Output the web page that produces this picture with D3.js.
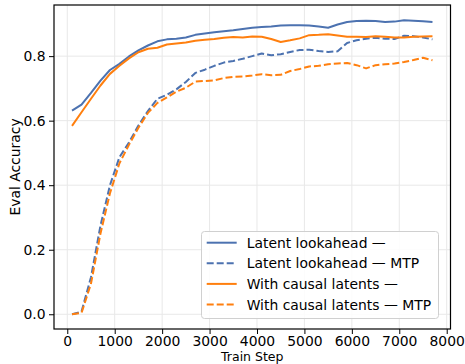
<!DOCTYPE html>
<html><head><meta charset="utf-8">
<script src="https://cdn.jsdelivr.net/npm/d3@7"></script>
<style>
html,body{margin:0;padding:0;background:#fff;}
svg{display:block;font-family:"DejaVu Sans",sans-serif;}
</style></head>
<body>
<svg id="chart" width="465" height="364"></svg>
<script>
const steps = [100,300,500,700,900,1100,1300,1500,1700,1900,2100,2300,2500,2700,2900,3100,3300,3500,3700,3900,4100,4300,4500,4700,4900,5100,5300,5500,5700,5900,6100,6300,6500,6700,6900,7100,7300,7500,7700];
const latentLookahead = [0.631,0.650,0.686,0.724,0.757,0.776,0.799,0.818,0.833,0.846,0.852,0.854,0.858,0.866,0.870,0.874,0.877,0.880,0.884,0.888,0.890,0.892,0.895,0.896,0.896,0.895,0.892,0.888,0.898,0.906,0.909,0.910,0.909,0.906,0.907,0.911,0.910,0.908,0.906];
const latentLookaheadMTP = [0.000,0.008,0.115,0.275,0.400,0.487,0.532,0.585,0.630,0.668,0.680,0.697,0.720,0.748,0.758,0.770,0.780,0.785,0.792,0.800,0.808,0.803,0.806,0.813,0.819,0.820,0.816,0.813,0.815,0.841,0.849,0.854,0.857,0.854,0.853,0.863,0.862,0.858,0.852];
const causalLatents = [0.584,0.626,0.668,0.709,0.745,0.770,0.793,0.812,0.823,0.826,0.836,0.839,0.842,0.848,0.851,0.853,0.857,0.859,0.858,0.861,0.860,0.853,0.844,0.849,0.855,0.865,0.866,0.868,0.864,0.860,0.860,0.859,0.862,0.860,0.858,0.858,0.860,0.861,0.862];
const causalLatentsMTP = [0.000,0.004,0.095,0.250,0.375,0.468,0.525,0.578,0.624,0.655,0.672,0.690,0.702,0.721,0.723,0.725,0.732,0.736,0.737,0.740,0.744,0.741,0.742,0.754,0.760,0.768,0.770,0.775,0.777,0.779,0.772,0.762,0.772,0.775,0.777,0.782,0.788,0.795,0.787];
const seriesNames = ["Latent lookahead \u2014","Latent lookahead \u2014 MTP","With causal latents \u2014","With causal latents \u2014 MTP"];
const xTicks = [0,1000,2000,3000,4000,5000,6000,7000,8000];
const yTicks = [0.0,0.2,0.4,0.6,0.8];

const series = [
  {name: seriesNames[0], values: latentLookahead, color: "#4c72b0", dash: null},
  {name: seriesNames[1], values: latentLookaheadMTP, color: "#4c72b0", dash: "7,3"},
  {name: seriesNames[2], values: causalLatents, color: "#ff7f0e", dash: null},
  {name: seriesNames[3], values: causalLatentsMTP, color: "#ff7f0e", dash: "7,3"}
];

const FS = 13.9;
const svg = d3.select("#chart");
const L = 54, R = 450.5, T = 5, B = 329;
const x = d3.scaleLinear().domain([-280, 8080]).range([L, R]);
const y = d3.scaleLinear().domain([-0.0457, 0.9585]).range([B, T]);

// grid
const g = svg.append("g");
g.selectAll(".vg").data(xTicks).enter().append("line")
  .attr("x1", d => x(d)).attr("x2", d => x(d)).attr("y1", T).attr("y2", B)
  .attr("stroke", "#e8e8e8").attr("stroke-width", 1);
g.selectAll(".hg").data(yTicks).enter().append("line")
  .attr("y1", d => y(d)).attr("y2", d => y(d)).attr("x1", L).attr("x2", R)
  .attr("stroke", "#e8e8e8").attr("stroke-width", 1);

// lines
const line = d3.line().x((d, i) => x(steps[i])).y(d => y(d));
series.forEach(s => {
  svg.append("path").datum(s.values)
    .attr("d", line)
    .attr("fill", "none")
    .attr("stroke", s.color)
    .attr("stroke-width", 2)
    .attr("stroke-dasharray", s.dash)
    .attr("stroke-linejoin", "round");
});

// axes
const xAxis = d3.axisBottom(x).tickValues(xTicks).tickFormat(d3.format("d")).tickSizeOuter(0).tickSize(5).tickPadding(2);
const yAxis = d3.axisLeft(y).tickValues(yTicks).tickFormat(d3.format(".1f")).tickSizeOuter(0).tickSize(5).tickPadding(3.5);
const gx = svg.append("g").attr("transform", `translate(0,${B})`).call(xAxis);
const gy = svg.append("g").attr("transform", `translate(${L},0)`).call(yAxis);
[gx, gy].forEach(a => {
  a.select(".domain").remove();
  a.selectAll("text").attr("font-size", FS).attr("fill", "#000").attr("font-family", "DejaVu Sans");
  a.selectAll("line").attr("stroke", "#000").attr("stroke-width", 1);
});

// frame
svg.append("rect").attr("x", L).attr("y", T).attr("width", R - L).attr("height", B - T)
  .attr("fill", "none").attr("stroke", "#000").attr("stroke-width", 1.2);

// labels
svg.append("text").attr("x", (L + R) / 2).attr("y", 361).attr("text-anchor", "middle")
  .attr("font-size", 12.5).text("Train Step");
svg.append("text").attr("transform", `translate(20,${(T + B) / 2}) rotate(-90)`).attr("text-anchor", "middle")
  .attr("font-size", FS).text("Eval Accuracy");

// legend
const lg = svg.append("g");
lg.append("rect").attr("x", 201.5).attr("y", 231.5).attr("width", 237).attr("height", 87).attr("rx", 3)
  .attr("fill", "#fff").attr("fill-opacity", 0.85).attr("stroke", "#d0d0d0").attr("stroke-width", 1);
series.forEach((s, i) => {
  const cy = 242.7 + i * 20.6;
  lg.append("line").attr("x1", 206.7).attr("x2", 236.7).attr("y1", cy).attr("y2", cy)
    .attr("stroke", s.color).attr("stroke-width", 2).attr("stroke-dasharray", s.dash);
  lg.append("text").attr("x", 246.7).attr("y", cy + 5).attr("font-size", FS).text(s.name);
});
</script>
</body></html>
